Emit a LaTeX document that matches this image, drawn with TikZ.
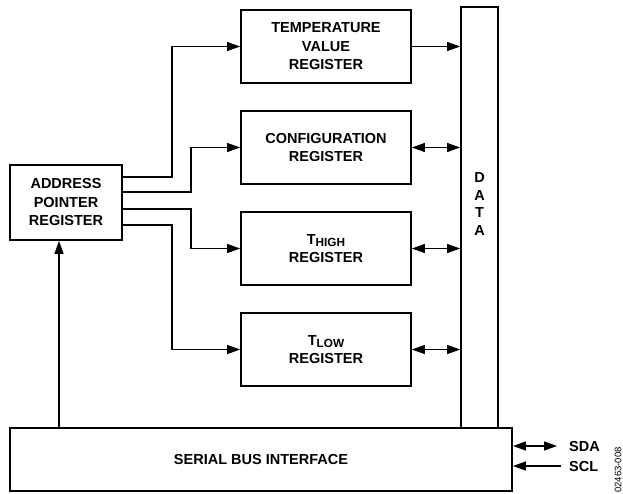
\documentclass[tikz,border=0pt]{standalone}
\usepackage{fontspec}
\setmainfont{Liberation Sans}
\usetikzlibrary{arrows.meta}

\tikzset{
  regbox/.style={draw, line width=1.8pt, align=center, font=\bfseries, minimum width=170pt, minimum height=73pt, inner sep=0pt},
  link/.style={line width=1.3pt}
}
\newcommand{\sub}[1]{\raisebox{-0.35ex}{\fontsize{11.8}{11.8}\selectfont #1}}

\begin{document}
\fontsize{14.5}{18.5}\selectfont
\begin{tikzpicture}[x=1pt,y=-1pt, >={Triangle[length=13pt,width=9pt]}]
            \useasboundingbox (0,0) rectangle (623,493);
            \node[regbox] (temp) at (326,46.5) {TEMPERATURE\\VALUE\\REGISTER};
            \node[regbox] (conf) at (326,147.5) {CONFIGURATION\\REGISTER};
            \node[regbox] (thigh) at (326,248.5) {T\sub{HIGH}\\REGISTER};
            \node[regbox] (tlow) at (326,349.5) {T\sub{LOW}\\REGISTER};
            \node[regbox, minimum width=112pt, minimum height=75pt] (addr) at (66,202.5) {ADDRESS\\POINTER\\REGISTER};
            \node[regbox, minimum width=37pt, minimum height=421pt] (data) at (479.5,217.5) {};
            \node[font=\bfseries, align=center, inner sep=0pt, text height=10pt] (datalbl) at (479.5,230) {D\\[-1pt]A\\[-1pt]T\\[-1pt]A};
            \node[regbox, minimum width=502pt, minimum height=63pt] (ser) at (261,459.5) {SERIAL BUS INTERFACE};
            \node[font=\bfseries, anchor=west, inner sep=0pt] (sda) at (569,446) {SDA};
            \node[font=\bfseries, anchor=west, inner sep=0pt] (scl) at (569,466) {SCL};
            \node[rotate=90, font=\fontsize{9.5}{9.5}\selectfont, inner sep=0pt] (code) at (618,470) {02463-008};
            \coordinate (up) at (59,0);
            % address pointer to the registers
            \draw[link,->] ([yshift=25.5pt]addr.east) -- ++(49,0) |- (temp.west);
            \draw[link,->] ([yshift=10.5pt]addr.east) -- ++(68,0) |- (conf.west);
            \draw[link,->] ([yshift=-6.5pt]addr.east) -- ++(68,0) |- (thigh.west);
            \draw[link,->] ([yshift=-22.5pt]addr.east) -- ++(49,0) |- (tlow.west);
            % registers to data bus
            \draw[link,->] (temp.east) -- (temp.east -| data.west);
            \draw[link,<->] (conf.east) -- (conf.east -| data.west);
            \draw[link,<->] (thigh.east) -- (thigh.east -| data.west);
            \draw[link,<->] (tlow.east) -- (tlow.east -| data.west);
            \draw[link,->] (up |- ser.north) -- (up |- addr.south);
            \draw[link,<->, shorten >=12pt] ([yshift=13.5pt]ser.east) -- (sda.west);
            \draw[link,->, shorten <=8pt] (scl.west) -- ([yshift=-6.5pt]ser.east);
        \end{tikzpicture}
\end{document}
